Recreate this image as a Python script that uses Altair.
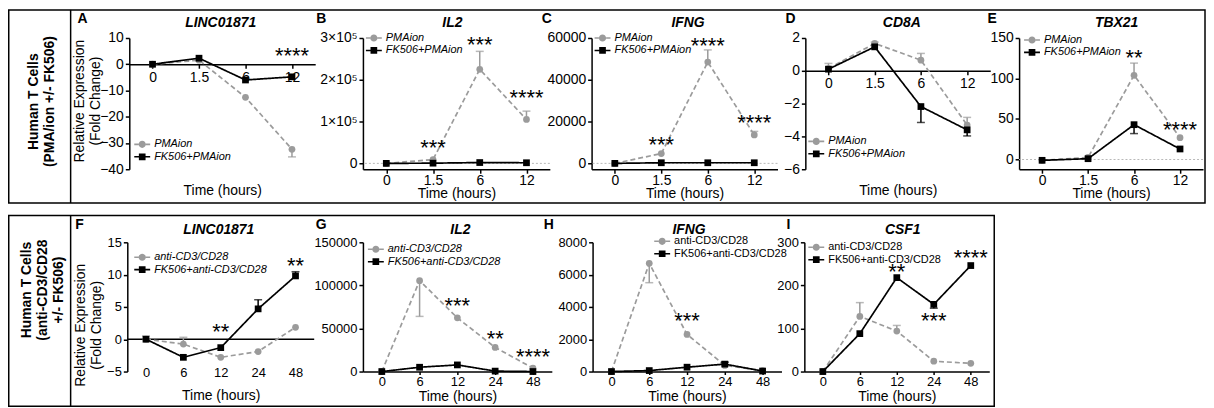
import altair as alt
import pandas as pd

FONT = "Liberation Sans"
GRAY = "#9b9b9b"
BLACK = "#000000"

TIMES_TOP = ["0", "1.5", "6", "12"]
TIMES_BOT = ["0", "6", "12", "24", "48"]
SER_TOP = ["PMAion", "FK506+PMAion"]
SER_BOT = ["anti-CD3/CD28", "FK506+anti-CD3/CD28"]

# ---- Panel A: LINC01871 (PMA/ion) ----
A_s1 = [0, 1.55, -12.6, -32.4]
A_s1_err = [None, None, None, -35.3]
A_s2 = [0, 2.3, -6.0, -4.8]
A_s2_err = [None, None, None, None]
A_star_t = ["12"]
A_star_txt = ["****"]
A_star_y = [4]

# ---- Panel B: IL2 (PMA/ion) ----
B_s1 = [0, 9000, 225000, 105000]
B_s1_err = [None, None, 268000, 125000]
B_s2 = [0, 500, 2000, 1500]
B_s2_err = [None, None, None, None]
B_star_t = ["1.5", "6", "12"]
B_star_txt = ["***", "***", "****"]
B_star_y = [41000, 288000, 162000]

# ---- Panel C: IFNG (PMA/ion) ----
C_s1 = [0, 4700, 48500, 13600]
C_s1_err = [None, None, 54300, 15300]
C_s2 = [0, 300, 300, 300]
C_s2_err = [None, None, None, None]
C_star_t = ["1.5", "6", "12"]
C_star_txt = ["***", "****", "****"]
C_star_y = [9700, 57300, 20300]

# ---- Panel D: CD8A (PMA/ion) ----
D_s1 = [0.14, 1.67, 0.65, -3.31]
D_s1_err = [0.45, 1.75, 1.06, -2.84]
D_s2 = [0.1, 1.46, -2.18, -3.6]
D_s2_err = [None, None, -3.15, -3.97]
D_star_t = []
D_star_txt = []
D_star_y = []

# ---- Panel E: TBX21 (PMA/ion) ----
E_s1 = [-1, 2.5, 104, 27]
E_s1_err = [None, None, 119, None]
E_s2 = [-1, 1, 43, 13]
E_s2_err = [None, None, 32, None]
E_star_t = ["6", "12"]
E_star_txt = ["**", "****"]
E_star_y = [128, 39]

# ---- Panel F: LINC01871 (anti-CD3/CD28) ----
F_s1 = [0, -0.75, -2.8, -1.9, 1.85]
F_s1_err = [0.5, 0.3, None, None, None]
F_s2 = [0, -2.8, -1.3, 4.7, 9.8]
F_s2_err = [None, None, None, 6.1, 10.45]
F_star_t = ["12", "48"]
F_star_txt = ["**", "**"]
F_star_y = [1.45, 11.7]

# ---- Panel G: IL2 (anti-CD3/CD28) ----
G_s1 = [0, 105500, 62300, 28000, 4000]
G_s1_err = [None, 64000, None, None, None]
G_s2 = [0, 5000, 7700, 500, 0]
G_s2_err = [None, None, None, None, None]
G_star_t = ["12", "24", "48"]
G_star_txt = ["***", "**", "****"]
G_star_y = [78500, 39800, 18600]

# ---- Panel H: IFNG (anti-CD3/CD28) ----
H_s1 = [0, 6700, 2300, 380, 60]
H_s1_err = [None, 5500, None, None, None]
H_s2 = [0, 60, 270, 460, 30]
H_s2_err = [None, None, None, 580, None]
H_star_t = ["12"]
H_star_txt = ["***"]
H_star_y = [3220]

# ---- Panel I: CSF1 (anti-CD3/CD28) ----
I_s1 = [0, 128, 94, 24, 19]
I_s1_err = [None, 160, 107, None, None]
I_s2 = [0, 88, 218, 156, 246]
I_s2_err = [None, None, None, 147, None]
I_star_t = ["12", "24", "48"]
I_star_txt = ["**", "***", "****"]
I_star_y = [236, 123, 267]

# legend glyphs: short line segments either side of the marker, all filled
CIRCLE_PATH = ("M-1,-0.1H-0.45V0.1H-1ZM0.45,-0.1H1V0.1H0.45Z"
               "M-0.45,0A0.45,0.45,0,1,1,0.45,0A0.45,0.45,0,1,1,-0.45,0Z")
SQUARE_PATH = ("M-1,-0.1H-0.42V0.1H-1ZM0.42,-0.1H1V0.1H0.42Z"
               "M-0.42,-0.42H0.42V0.42H-0.42Z")

dummy = pd.DataFrame({"k": [0]})
zero_df = pd.DataFrame({"value": [0]})

AX = dict(domainColor="black", tickColor="black", labelColor="black", titleColor="black",
          domainWidth=1.5, tickWidth=1.5, labelFont=FONT, titleFont=FONT, grid=False)


def legend_for(name, color, path, lx, ly, italic):
    leg = alt.Legend(orient="none", legendX=lx, legendY=ly, title=None, labelFont=FONT,
                     labelFontSize=11, labelFontStyle="italic" if italic else "normal",
                     labelColor="black", labelLimit=0, labelOffset=4, symbolSize=256,
                     symbolStrokeWidth=0, symbolType=path, symbolFillColor=color,
                     symbolStrokeColor=color, padding=0)
    return alt.Chart(pd.DataFrame({"series": [name]})).transform_filter("false") \
        .mark_line(color=color, strokeWidth=1.5) \
        .encode(strokeDash=alt.StrokeDash("series:N", scale=alt.Scale(domain=[name], range=[[1, 0]]),
                                          legend=leg))


def panel(times, names, s1, s1e, s2, s2e, st_t, st_txt, st_y, *, w, h, ydom, yticks, fs,
          xmode, letter, lpos, title, tpos, legend_pos, italic, ylabel_expr=None,
          ytitle=None, ytitle_pos=None, zoff=None, xtitle_y=17, xtick=4, xpad=0,
          zero_dotted=False, zero_solid=False):
    xkw = dict(AX, title="Time (hours)", labelAngle=0, labelFontSize=fs, titleFontSize=14,
               titleFontWeight="normal", titleBaseline="top", titleY=xtitle_y)
    if xmode == "bottom":
        xkw.update(tickSize=xtick, labelPadding=xpad)
    elif xmode == "zero":
        xkw.update(tickSize=4, labelPadding=2, offset=zoff)
    else:
        xkw.update(domain=False, ticks=False, tickSize=0, labelPadding=2, offset=zoff)
    xaxis = alt.Axis(**xkw)

    ykw = dict(AX, values=yticks, title=ytitle, labelFontSize=fs, tickSize=4, labelPadding=2,
               labelFlush=False, labelOverlap=False, titleFontSize=14, titleFontWeight="normal",
               titleLineHeight=16, format="d")
    if ylabel_expr:
        ykw["labelExpr"] = ylabel_expr
    if ytitle_pos:
        ykw["titleX"] = ytitle_pos[0]
        ykw["titleY"] = ytitle_pos[1]
    yaxis = alt.Axis(**ykw)
    yscale = alt.Scale(domain=ydom, nice=False, zero=False)

    X = alt.X("t:O", sort=times, scale=alt.Scale(type="point", domain=times, padding=0.5), axis=xaxis)
    Y = alt.Y("value:Q", scale=yscale, axis=yaxis)
    Ytip = alt.Y("tip:Q", scale=yscale, axis=yaxis)

    layers = []
    if zero_dotted:
        layers.append(alt.Chart(zero_df).mark_rule(color="#b8b8b8", strokeDash=[2, 2], strokeWidth=1)
                      .encode(y=Y))
    if zero_solid:
        layers.append(alt.Chart(zero_df).mark_rule(color="black", strokeWidth=1.5)
                      .encode(y=Y))

    series = [(names[0], s1, s1e, GRAY, [5, 3], "circle"),
              (names[1], s2, s2e, BLACK, [1, 0], "square")]
    for name, vals, errs, col, dash, shp in series:
        df = pd.DataFrame({"t": times, "value": vals})
        er = [(t, v, e) for t, v, e in zip(times, vals, errs) if e is not None]
        if er:
            edf = pd.DataFrame(er, columns=["t", "value", "tip"])
            layers.append(alt.Chart(edf).mark_rule(strokeWidth=1.5, color=col)
                          .encode(x=X, y=Y, y2="tip:Q"))
            layers.append(alt.Chart(edf).mark_tick(thickness=1.5, size=8, orient="horizontal", color=col)
                          .encode(x=X, y=Ytip))
        layers.append(alt.Chart(df).mark_line(strokeWidth=1.7, color=col, strokeDash=dash)
                      .encode(x=X, y=Y))
        layers.append(alt.Chart(df).mark_point(filled=True, size=46, opacity=1, color=col, shape=shp)
                      .encode(x=X, y=Y))

    if st_t:
        stars = pd.DataFrame({"t": st_t, "label": st_txt, "value": st_y})
        layers.append(alt.Chart(stars).mark_text(fontSize=22, font=FONT, dy=2, baseline="middle", color="black")
                      .encode(x=X, y=Y, text="label:N"))

    lx, ly = legend_pos
    layers.append(legend_for(names[0], GRAY, CIRCLE_PATH, lx, ly - 10, italic))
    layers.append(legend_for(names[1], BLACK, SQUARE_PATH, lx, ly + 2.5, italic))

    layers.append(alt.Chart(dummy).mark_text(text=letter, font=FONT, fontSize=14, fontWeight="bold",
                                             align="center", baseline="middle", color="black")
                  .encode(x=alt.value(lpos[0]), y=alt.value(lpos[1])))
    layers.append(alt.Chart(dummy).mark_text(text=title, font=FONT, fontSize=14, fontWeight="bold",
                                             fontStyle="italic", align="center", baseline="middle", color="black")
                  .encode(x=alt.value(tpos[0]), y=alt.value(tpos[1])))
    return alt.layer(*layers).properties(width=w, height=h) \
        .resolve_scale(strokeDash="independent") \
        .resolve_legend(strokeDash="independent")


def label_view(w, h, lines, xs, yc, box, div_x):
    x0, x1, y0, y1 = box
    layers = [
        alt.Chart(dummy).mark_rect(fillOpacity=0, stroke="black", strokeWidth=1.5)
        .encode(x=alt.value(x0), x2=alt.value(x1), y=alt.value(y0), y2=alt.value(y1)),
        alt.Chart(dummy).mark_rule(color="black", strokeWidth=1.5)
        .encode(x=alt.value(div_x), y=alt.value(y0), y2=alt.value(y1)),
    ]
    for txt, x in zip(lines, xs):
        layers.append(alt.Chart(dummy).mark_text(text=txt, angle=270, fontSize=14, fontWeight="bold",
                                                 font=FONT, align="center", baseline="middle", color="black")
                      .encode(x=alt.value(x), y=alt.value(yc)))
    return alt.layer(*layers).properties(width=w, height=h)


def spacer(w, h):
    return alt.Chart(dummy).mark_point(opacity=0).properties(width=w, height=h)


HT, HB = 132, 130
REL_Y = ["Relative Expression", "(Fold Change)"]

pA = panel(TIMES_TOP, SER_TOP, A_s1, A_s1_err, A_s2, A_s2_err, A_star_t, A_star_txt, A_star_y,
           w=187, h=HT, ydom=[-40, 10], yticks=[-40, -30, -20, -10, 0, 10], fs=14,
           xmode="zero", zoff=-105.6, xtitle_y=120.5, letter="A", lpos=(-47, -19),
           title="LINC01871", tpos=(92, -15), legend_pos=(5, 109), italic=True,
           ytitle=REL_Y, ytitle_pos=(-43, 63))
pB = panel(TIMES_TOP, SER_TOP, B_s1, B_s1_err, B_s2, B_s2_err, B_star_t, B_star_txt, B_star_y,
           w=188, h=HT, ydom=[-14000, 300000], yticks=[0, 100000, 200000, 300000], fs=14,
           xmode="bottom", letter="B", lpos=(-42, -19), title="IL2", tpos=(90, -15),
           legend_pos=(3, 2), italic=True, zero_dotted=True,
           ylabel_expr="datum.value == 0 ? '0' : (datum.value / 100000) + '×10⁵'")
pC = panel(TIMES_TOP, SER_TOP, C_s1, C_s1_err, C_s2, C_s2_err, C_star_t, C_star_txt, C_star_y,
           w=187, h=HT, ydom=[-2800, 60000], yticks=[0, 20000, 40000, 60000], fs=14,
           xmode="bottom", letter="C", lpos=(-45, -19), title="IFNG", tpos=(97, -15),
           legend_pos=(3, 2), italic=True, zero_dotted=True)
pD = panel(TIMES_TOP, SER_TOP, D_s1, D_s1_err, D_s2, D_s2_err, D_star_t, D_star_txt, D_star_y,
           w=186, h=HT, ydom=[-6, 2], yticks=[-6, -4, -2, 0, 2], fs=14,
           xmode="zero", zoff=-99, xtitle_y=113.9, letter="D", lpos=(-15, -19),
           title="CD8A", tpos=(97, -15), legend_pos=(3, 106), italic=True)
pE = panel(TIMES_TOP, SER_TOP, E_s1, E_s1_err, E_s2, E_s2_err, E_star_t, E_star_txt, E_star_y,
           w=185, h=HT, ydom=[-12, 150], yticks=[0, 50, 100, 150], fs=14,
           xmode="bottom", letter="E", lpos=(-27, -19), title="TBX21", tpos=(98, -15),
           legend_pos=(5, 4), italic=True, zero_dotted=True)

pF = panel(TIMES_BOT, SER_BOT, F_s1, F_s1_err, F_s2, F_s2_err, F_star_t, F_star_txt, F_star_y,
           w=188, h=HB, ydom=[-5, 15], yticks=[-5, 0, 5, 10, 15], fs=13,
           xmode="float", zoff=-6.7, xtitle_y=23.6, letter="F", lpos=(-48, -17),
           title="LINC01871", tpos=(92, -12), legend_pos=(7, 17), italic=True,
           ytitle=REL_Y, ytitle_pos=(-40, 83), zero_solid=True)
pG = panel(TIMES_BOT, SER_BOT, G_s1, G_s1_err, G_s2, G_s2_err, G_star_t, G_star_txt, G_star_y,
           w=190, h=HB, ydom=[0, 150000], yticks=[0, 50000, 100000, 150000], fs=13,
           xmode="bottom", xtick=3, xpad=1, xtitle_y=18, letter="G", lpos=(-42, -17),
           title="IL2", tpos=(98, -12), legend_pos=(5, 9), italic=True)
pH = panel(TIMES_BOT, SER_BOT, H_s1, H_s1_err, H_s2, H_s2_err, H_star_t, H_star_txt, H_star_y,
           w=190, h=HB, ydom=[0, 8000], yticks=[0, 2000, 4000, 6000, 8000], fs=13,
           xmode="bottom", xtick=3, xpad=1, xtitle_y=18, letter="H", lpos=(-44, -17),
           title="IFNG", tpos=(97, -12), legend_pos=(62, 1), italic=False)
pI = panel(TIMES_BOT, SER_BOT, I_s1, I_s1_err, I_s2, I_s2_err, I_star_t, I_star_txt, I_star_y,
           w=186, h=HB, ydom=[0, 300], yticks=[0, 100, 200, 300], fs=13,
           xmode="bottom", xtick=3, xpad=1, xtitle_y=18, letter="I", lpos=(-16, -17),
           title="CSF1", tpos=(99, -12), legend_pos=(4, 7), italic=False)

lab1 = label_view(122, HT, ["Human T Cells", "(PMA/ion +/- FK506)"], [26, 42], 64,
                  (0.75, 1204, -28.25, 166), 63)
lab2 = label_view(120, HB, ["Human T Cells", "(anti-CD3/CD28", "+/- FK506)"], [19, 35, 51], 48,
                  (0.75, 992, -27, 165), 63)

RES = dict(strokeDash="independent")

row1 = alt.hconcat(lab1, pA, spacer(48, HT), pB, spacer(42, HT), pC, spacer(28, HT), pD,
                   spacer(29, HT), pE, spacing=0, bounds="flush") \
    .resolve_scale(**RES).resolve_legend(**RES)
row2 = alt.hconcat(lab2, pF, spacer(49, HB), pG, spacer(41, HB), pH, spacer(23, HB), pI,
                   spacing=0, bounds="flush") \
    .resolve_scale(**RES).resolve_legend(**RES)

chart = alt.vconcat(row1, row2, spacing=10.5) \
    .resolve_scale(**RES).resolve_legend(**RES) \
    .properties(padding=0, background="white") \
    .configure(font=FONT) \
    .configure_view(stroke="transparent", strokeWidth=0) \
    .configure_axis(grid=False)

chart.save("out.html", embed_options={"renderer": "svg", "actions": False})
